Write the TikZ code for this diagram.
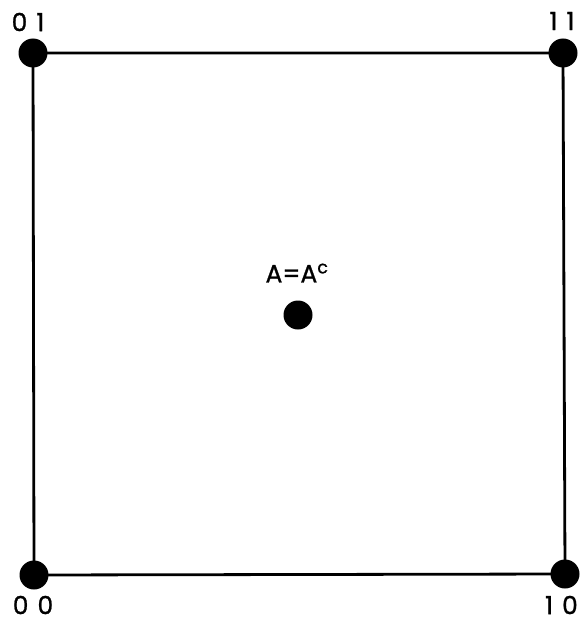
\documentclass[tikz,border=0pt]{standalone}
\usepackage{fontspec}
\setmainfont{Poppins}[BoldFont=Poppins,BoldFeatures={FakeBold=0.9}]
\tikzset{
  dot/.style={circle,fill=black,inner sep=0pt,minimum size=29pt},
  lbl/.style={font=\fontsize{25}{27}\selectfont\bfseries,inner sep=0pt},
  edge/.style={line width=2.8pt}
}
\begin{document}
\begin{tikzpicture}[x=1pt,y=-1pt]
\useasboundingbox (0,0) rectangle (580,623);
\node[dot] (n01) at (33,53) {};
\node[dot] (n11) at (563,53) {};
\node[dot] (n00) at (34,575) {};
\node[dot] (n10) at (565,574) {};
\node[dot] (c) at (298,315) {};
\draw[edge] (n01.center) -- (n11.center) -- (n10.center) -- (n00.center) -- cycle;
\node[lbl] (l01) at (28,22) {0\hspace{9pt}1};
\node[lbl] (l11) at (562,21) {1\hspace{9pt}1};
\node[lbl] (l00) at (33,605) {0\hspace{9pt}0};
\node[lbl,anchor=east] (l10) at (578,605) {1\hspace{9pt}0};
\node[lbl] (lc) at (297,273) {A=A\textsuperscript{c}};
\end{tikzpicture}
\end{document}
